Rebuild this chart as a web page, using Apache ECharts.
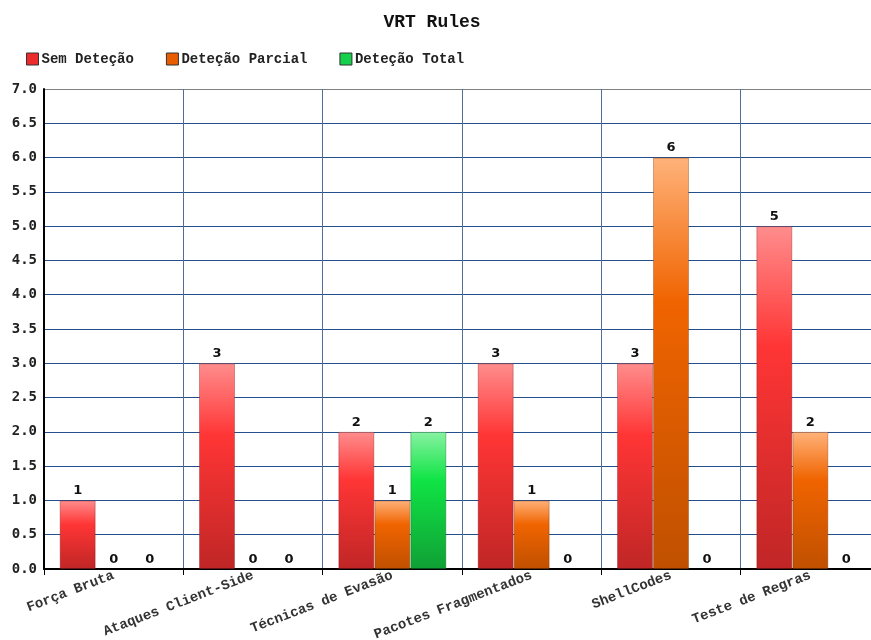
<!DOCTYPE html>
<html>
<head>
<meta charset="utf-8">
<script src="https://cdn.jsdelivr.net/npm/echarts@6/dist/echarts.min.js"></script>
<style>html,body{margin:0;padding:0;background:#fff}#c{width:871px;height:640px}</style>
</head>
<body>
<div id="c"></div>
<script>
var categories = ['Força Bruta', 'Ataques Client-Side', 'Técnicas de Evasão', 'Pacotes Fragmentados', 'ShellCodes', 'Teste de Regras'];
var seriesNames = ['Sem Deteção', 'Deteção Parcial', 'Deteção Total'];
var semDetecao = [1, 3, 2, 3, 3, 5];
var detecaoParcial = [0, 0, 1, 1, 6, 2];
var detecaoTotal = [0, 0, 2, 0, 0, 0];
var yTicks = [0, 7, 0.5];

function grad(top, mid, bot) {
  return new echarts.graphic.LinearGradient(0, 0, 0, 1, [
    {offset: 0, color: top}, {offset: 0.35, color: mid}, {offset: 1, color: bot}
  ]);
}
var palettes = [
  {legend: '#ee2b2b', fill: grad('#ff8d8d', '#ff3535', '#c02626'), edge: 'rgba(120,20,20,0.35)'},
  {legend: '#e85d00', fill: grad('#ffb27a', '#f06400', '#c05000'), edge: 'rgba(120,50,10,0.35)'},
  {legend: '#15d04a', fill: grad('#88f2a2', '#10e445', '#10a035'), edge: 'rgba(10,90,30,0.35)'}
];
var dataSets = [semDetecao, detecaoParcial, detecaoTotal];

var gridColors = [];
for (var i = 0; i < 14; i++) gridColors.push('#234f8c');
gridColors.push('#808080');

var chart = echarts.init(document.getElementById('c'), null, {renderer: 'canvas'});
chart.setOption({
  animation: false,
  backgroundColor: '#ffffff',
  title: {
    text: 'VRT Rules', left: 427, top: 8, textAlign: 'center',
    textStyle: {fontFamily: 'Liberation Mono', fontWeight: 'bold', fontSize: 18, color: '#111'}
  },
  legend: {
    left: 21, top: 47, itemWidth: 12, itemHeight: 12, itemGap: 32,
    icon: 'rect',
    textStyle: {fontFamily: 'Liberation Mono', fontWeight: 'bold', fontSize: 14, color: '#222', padding: [0, 0, 0, -2]},
    data: seriesNames.map(function (n, i) {
      return {name: n, itemStyle: {color: palettes[i].legend, borderColor: '#333', borderWidth: 1}};
    })
  },
  grid: {left: 44, right: -9, top: 89, bottom: 71, containLabel: false, outerBoundsMode: 'none'},
  xAxis: {
    type: 'category', data: categories, boundaryGap: true,
    axisLine: {lineStyle: {color: '#000', width: 2}},
    axisTick: {show: true, length: 6, lineStyle: {color: '#000', width: 1}},
    splitLine: {show: true, lineStyle: {color: '#4f6f98', width: 1}},
    axisLabel: {
      rotate: 21, interval: 0, margin: 6,
      fontFamily: 'Liberation Mono', fontWeight: 'bold', fontSize: 14, color: '#333'
    }
  },
  yAxis: {
    type: 'value', min: yTicks[0], max: yTicks[1], interval: yTicks[2],
    axisLine: {show: true, lineStyle: {color: '#000', width: 2}},
    axisTick: {show: false},
    splitLine: {show: true, lineStyle: {color: gridColors, width: 1}},
    axisLabel: {
      margin: 7, formatter: function (v) { return v.toFixed(1); },
      fontFamily: 'DejaVu Sans Mono', fontWeight: 'bold', fontSize: 14, color: '#222'
    }
  },
  series: dataSets.map(function (d, i) {
    return {
      name: seriesNames[i], type: 'bar',
      data: d.map(function (v) {
        return {value: v, itemStyle: {borderWidth: v === 0 ? 0 : 1}};
      }),
      barWidth: 36, barGap: '0%',
      itemStyle: {color: palettes[i].fill, borderColor: palettes[i].edge},
      label: {
        show: true, position: 'top', distance: 3,
        fontFamily: 'DejaVu Sans', fontWeight: 'bold', fontSize: 13, color: '#111'
      }
    };
  })
});
</script>
</body>
</html>
